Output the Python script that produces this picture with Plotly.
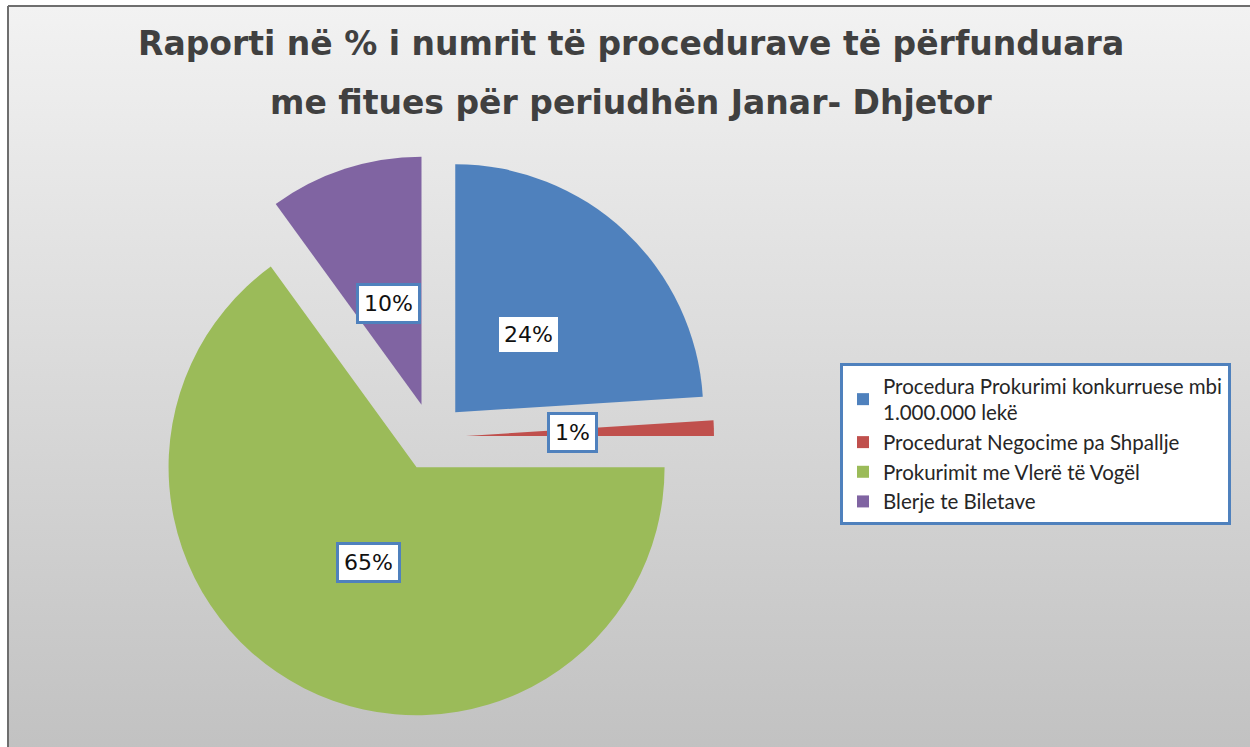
import base64
import math
import plotly.graph_objects as go

# ---------------- data ----------------
categories = [
    "Procedura Prokurimi konkurruese mbi<br>1.000.000 lekë",
    "Procedurat Negocime pa Shpallje",
    "Prokurimit me Vlerë të Vogël",
    "Blerje te Biletave",
]
values = [24, 1, 65, 10]
colors = ["#4F81BD", "#C0504D", "#9BBB59", "#8064A2"]
title_lines = [
    "Raporti në % i numrit të procedurave të përfunduara",
    "me fitues për periudhën Janar- Dhjetor",
]

W, H = 1250, 747
PULL = 0.137
DOM_X = [0.12, 0.5712]
DOM_Y = [0.0375, 0.7925]

# background: white frame edge, gray border on top/left, vertical gradient
svg = f"""<svg xmlns='http://www.w3.org/2000/svg' width='{W}' height='{H}' viewBox='0 0 {W} {H}' preserveAspectRatio='none'>
<defs><linearGradient id='g' x1='0' y1='0' x2='0' y2='1'>
<stop offset='0' stop-color='#f2f2f2'/><stop offset='1' stop-color='#c0c0c0'/></linearGradient></defs>
<rect x='0' y='0' width='{W}' height='{H}' fill='#ffffff'/>
<rect x='8' y='6' width='{W + 20}' height='{H + 20}' fill='url(#g)'/>
<line x1='8' y1='6' x2='{W + 20}' y2='6' stroke='#6e6e6e' stroke-width='2'/>
<line x1='8' y1='6' x2='8' y2='{H + 20}' stroke='#6e6e6e' stroke-width='2'/>
</svg>"""
bg_src = "data:image/svg+xml;base64," + base64.b64encode(svg.encode("utf-8")).decode("ascii")

fig = go.Figure()
fig.add_trace(go.Pie(
    labels=categories,
    values=values,
    marker=dict(colors=colors, line=dict(width=0)),
    sort=False,
    direction="clockwise",
    rotation=0,
    pull=[PULL] * len(values),
    textinfo="none",
    hoverinfo="label+percent",
    domain=dict(x=DOM_X, y=DOM_Y),
))

# data labels (white boxes) placed on each slice's mid-angle
dom_w = (DOM_X[1] - DOM_X[0]) * W
dom_h = (DOM_Y[1] - DOM_Y[0]) * H
r = min(dom_w, dom_h) / 2 / (1 + PULL)
cx = (DOM_X[0] + DOM_X[1]) / 2 * W
cy = (1 - (DOM_Y[0] + DOM_Y[1]) / 2) * H
total = sum(values)
cum = 0
annotations = []
for v in values:
    mid = (cum + v / 2) / total * 2 * math.pi
    cum += v
    d = (PULL + 0.43) * r
    px = cx + d * math.sin(mid)
    py = cy - d * math.cos(mid)
    annotations.append(dict(
        x=px / W, y=1 - py / H, xref="paper", yref="paper",
        text=f"{round(v / total * 100)}%", showarrow=False,
        font=dict(family="DejaVu Sans", size=22, color="#111111"),
        bgcolor="#ffffff", bordercolor="#4F81BD", borderwidth=3, borderpad=5,
        xanchor="center", yanchor="middle",
    ))

# title (two lines)
for txt, ypx in zip(title_lines, [44, 103]):
    annotations.append(dict(
        x=0.505, y=1 - ypx / H, xref="paper", yref="paper",
        text=f"<b>{txt}</b>", showarrow=False,
        font=dict(family="DejaVu Sans", size=33, color="#404040"),
        xanchor="center", yanchor="middle",
    ))

fig.update_layout(
    width=W, height=H,
    margin=dict(l=0, r=0, t=0, b=0),
    paper_bgcolor="#d6d6d6",
    annotations=annotations,
    images=[dict(source=bg_src, xref="paper", yref="paper", x=0, y=1,
                 sizex=1, sizey=1, sizing="stretch", layer="below",
                 xanchor="left", yanchor="top")],
    showlegend=True,
    legend=dict(
        x=840 / W, y=1 - 363 / H, xanchor="left", yanchor="top",
        bgcolor="#ffffff", bordercolor="#4F81BD", borderwidth=3,
        font=dict(family="Lato", size=20.5, color="#262626"),
        itemwidth=30, traceorder="normal", valign="middle",
    ),
)

fig.write_html(
    "out.html",
    config={"displayModeBar": False},
    post_script=(
        "document.body.style.margin='0';"
        "document.body.style.overflow='hidden';"
        "document.documentElement.style.overflow='hidden';"
    ),
)
